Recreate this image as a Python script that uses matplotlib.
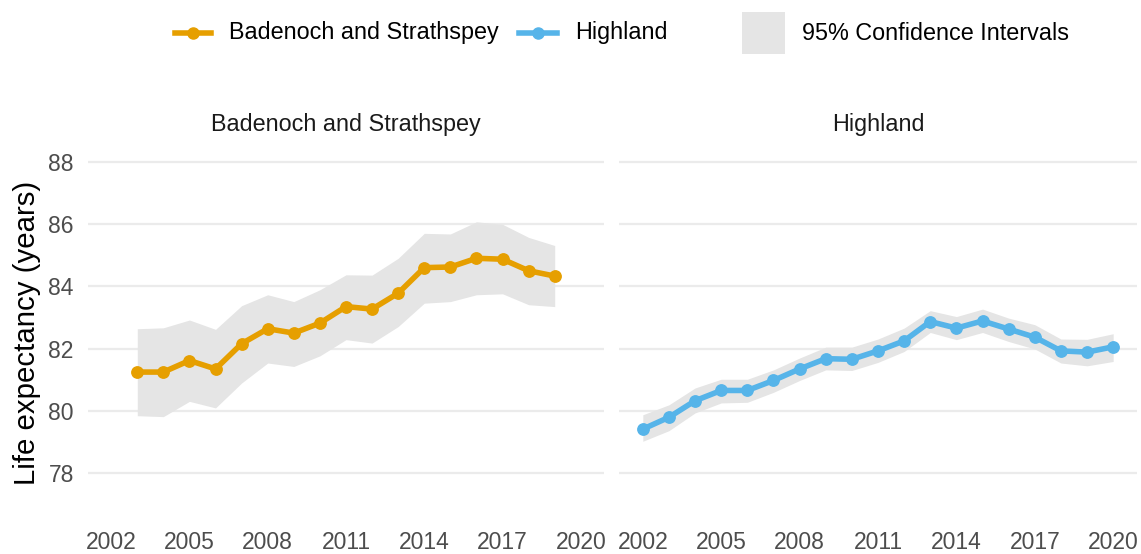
import numpy as np
import matplotlib.pyplot as plt
from matplotlib.lines import Line2D
from matplotlib.patches import Rectangle

plt.rcParams["font.family"] = ["Liberation Sans", "DejaVu Sans"]

# ---- data ----
bs_years = list(range(2003, 2020))
bs_le = [81.25, 81.25, 81.62, 81.35, 82.16, 82.64, 82.50, 82.82, 83.35,
         83.27, 83.78, 84.60, 84.62, 84.90, 84.87, 84.50, 84.33]
bs_upper = [82.64, 82.67, 82.92, 82.62, 83.38, 83.73, 83.51, 83.89, 84.37,
            84.36, 84.90, 85.70, 85.68, 86.07, 85.99, 85.57, 85.31]
bs_lower = [79.85, 79.82, 80.31, 80.10, 80.90, 81.54, 81.43, 81.77, 82.29,
            82.18, 82.71, 83.46, 83.51, 83.73, 83.76, 83.41, 83.35]

hl_years = list(range(2002, 2021))
hl_le = [79.42, 79.80, 80.33, 80.66, 80.66, 80.98, 81.35, 81.68, 81.66, 81.93,
         82.25, 82.87, 82.66, 82.89, 82.63, 82.37, 81.93, 81.89, 82.06]
hl_upper = [79.88, 80.20, 80.74, 81.02, 81.02, 81.32, 81.70, 82.05, 82.05, 82.31,
            82.66, 83.22, 83.03, 83.27, 82.98, 82.77, 82.31, 82.30, 82.48]
hl_lower = [79.03, 79.37, 79.94, 80.26, 80.28, 80.60, 80.98, 81.32, 81.30, 81.56,
            81.91, 82.52, 82.29, 82.52, 82.23, 81.99, 81.54, 81.45, 81.59]

areas = ["Badenoch and Strathspey", "Highland"]
area_colours = ["#E69F00", "#56B4E9"]
x_ticks = [2002, 2005, 2008, 2011, 2014, 2017, 2020]
y_ticks = [78, 80, 82, 84, 86, 88]

ci_colour = "#E5E5E5"
grid_colour = "#EBEBEB"
tick_colour = "#4D4D4D"
text_colour = "#1A1A1A"
fs = 16.8

W, H = 1141, 554
fig = plt.figure(figsize=(W / 100, H / 100), dpi=100)


def px_axes(x0, x1, y_top, y_bot):
    # axes box given in pixel coords from top-left
    return fig.add_axes([x0 / W, 1 - y_bot / H, (x1 - x0) / W, (y_bot - y_top) / H])


ax_l = px_axes(87.7, 604.3, 144.5, 521.7)
ax_r = px_axes(619.3, 1136.7, 144.5, 521.7)

panels = [
    (ax_l, bs_years, bs_le, bs_lower, bs_upper),
    (ax_r, hl_years, hl_le, hl_lower, hl_upper),
]

for i, (ax, yrs, le, lo, hi) in enumerate(panels):
    ax.fill_between(yrs, lo, hi, color=ci_colour, linewidth=0, zorder=2)
    ax.plot(yrs, le, color=area_colours[i], linewidth=4, marker="o",
            markersize=8.2, zorder=3)
    ax.set_xlim(2001.1, 2020.9)
    ax.set_ylim(76.45, 88.55)
    ax.set_xticks(x_ticks)
    ax.set_yticks(y_ticks)
    ax.grid(axis="y", color=grid_colour, linewidth=1.6, zorder=0)
    ax.set_axisbelow(True)
    for s in ax.spines.values():
        s.set_visible(False)
    ax.tick_params(axis="both", length=0, labelsize=16.5, labelcolor=tick_colour)
    ax.tick_params(axis="x", pad=7)
    ax.tick_params(axis="y", pad=10)
    ax.text(0.5, 1.054, areas[i], transform=ax.transAxes, ha="center",
            va="center", fontsize=fs, color=text_colour)

ax_r.tick_params(axis="y", labelleft=False)

fig.text(27 / W, 1 - 333 / H, "Life expectancy (years)", rotation=90,
         ha="center", va="center", fontsize=21.2, color="black")

# ---- legend (top) ----
leg_y = 1 - 33 / H
for j, (x0, x1, tx) in enumerate([(175, 211, 229), (519, 557, 575)]):
    fig.add_artist(Line2D([x0 / W, x1 / W], [leg_y, leg_y], color=area_colours[j],
                          linewidth=4, transform=fig.transFigure))
    fig.add_artist(Line2D([(x0 + x1) / 2 / W], [leg_y], color=area_colours[j],
                          marker="o", markersize=8, transform=fig.transFigure))
    fig.text(tx / W, leg_y, areas[j], ha="left", va="center", fontsize=fs,
             color="black")

fig.add_artist(Rectangle((742 / W, 1 - 54 / H), 43 / W, 42 / H, color=ci_colour,
                         linewidth=0, transform=fig.transFigure))
fig.text(802 / W, leg_y, "95% Confidence Intervals", ha="left", va="center",
         fontsize=fs, color="black")

fig.savefig("out.png", dpi=100)
